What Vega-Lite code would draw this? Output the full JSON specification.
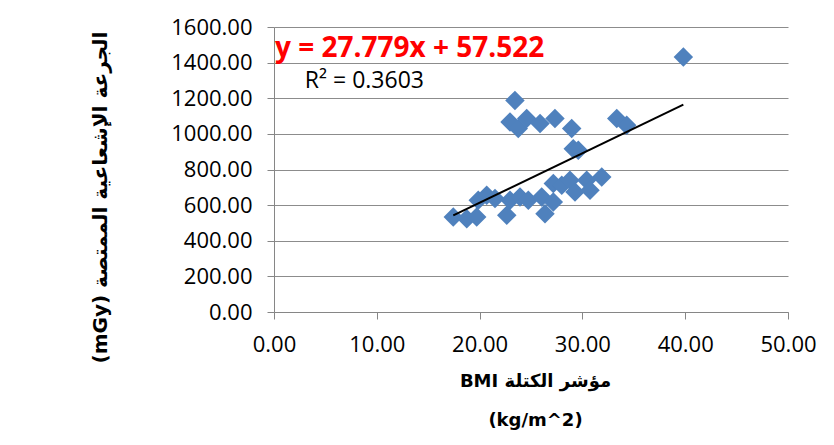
{
  "$schema": "https://vega.github.io/schema/vega-lite/v6.json",
  "width": 514,
  "height": 285,
  "autosize": {"type": "none"},
  "padding": {"left": 274, "top": 27, "right": 46, "bottom": 133},
  "background": "white",
  "config": {
    "view": {"stroke": null},
    "font": "Open Sans",
    "axis": {
      "domainColor": "#868686", "tickColor": "#868686", "tickSize": 7,
      "labelFontSize": 22, "labelColor": "black", "labelPadding": 15, "labelFont": "Open Sans",
      "labelOverlap": false, "labelFlush": false,
      "titleFont": "DejaVu Sans", "titleFontWeight": "bold", "titleColor": "black"
    }
  },
  "datasets": {
    "points": [
      {"bmi": 17.44, "dose": 533}, {"bmi": 18.75, "dose": 524}, {"bmi": 19.72, "dose": 533},
      {"bmi": 19.87, "dose": 627}, {"bmi": 20.69, "dose": 655}, {"bmi": 21.5, "dose": 637},
      {"bmi": 22.64, "dose": 543}, {"bmi": 22.96, "dose": 627}, {"bmi": 23.93, "dose": 646},
      {"bmi": 24.74, "dose": 627}, {"bmi": 23.44, "dose": 1188}, {"bmi": 22.96, "dose": 1067},
      {"bmi": 23.76, "dose": 1030}, {"bmi": 24.58, "dose": 1086}, {"bmi": 25.88, "dose": 1058},
      {"bmi": 27.33, "dose": 1086}, {"bmi": 28.96, "dose": 1030}, {"bmi": 29.11, "dose": 917},
      {"bmi": 29.6, "dose": 908}, {"bmi": 26.04, "dose": 646}, {"bmi": 26.36, "dose": 552},
      {"bmi": 27.17, "dose": 618}, {"bmi": 27.17, "dose": 721}, {"bmi": 27.99, "dose": 711},
      {"bmi": 28.79, "dose": 739}, {"bmi": 29.28, "dose": 674}, {"bmi": 30.42, "dose": 739},
      {"bmi": 30.74, "dose": 683}, {"bmi": 31.88, "dose": 758}, {"bmi": 33.34, "dose": 1086},
      {"bmi": 34.31, "dose": 1048}, {"bmi": 39.82, "dose": 1432}
    ],
    "trend": [{"bmi": 17.44, "dose": 542.0}, {"bmi": 39.82, "dose": 1163.7}]
  },
  "layer": [
    {
      "data": {"name": "points"},
      "mark": {"type": "point", "shape": "diamond", "filled": true, "size": 380, "color": "#4F81BD", "opacity": 1},
      "encoding": {
        "x": {
          "field": "bmi", "type": "quantitative",
          "scale": {"domain": [0, 50], "nice": false, "zero": true},
          "axis": {
            "values": [0, 10, 20, 30, 40, 50], "format": ".2f", "grid": false,
            "title": ["BMI مؤشر الكتلة", "(kg/m^2)"],
            "titleFontSize": 18,
            "titleX": 261, "titleY": 60, "titleBaseline": "top", "titleAlign": "center", "titleLineHeight": 39
          }
        },
        "y": {
          "field": "dose", "type": "quantitative",
          "scale": {"domain": [0, 1600], "nice": false},
          "axis": {
            "values": [0, 200, 400, 600, 800, 1000, 1200, 1400, 1600], "format": ".2f",
            "grid": true, "gridColor": "#8c8c8c", "gridWidth": 1,
            "title": "(mGy) الجرعة الإشعاعية الممتصة",
            "titleFontSize": 20,
            "titleAngle": -90, "titleX": -174, "titleY": 170, "titleAlign": "center", "titleBaseline": "middle"
          }
        }
      }
    },
    {
      "data": {"name": "trend"},
      "mark": {"type": "line", "color": "black", "strokeWidth": 2},
      "encoding": {
        "x": {"field": "bmi", "type": "quantitative",
              "axis": {"values": [0, 10, 20, 30, 40, 50], "format": ".2f", "grid": false}},
        "y": {"field": "dose", "type": "quantitative",
              "axis": {"values": [0, 200, 400, 600, 800, 1000, 1200, 1400, 1600], "format": ".2f",
                       "grid": true, "gridColor": "#8c8c8c", "gridWidth": 1}}
      }
    },
    {
      "data": {"values": [{}]},
      "mark": {"type": "text", "text": "y = 27.779x + 57.522", "align": "left", "baseline": "alphabetic",
               "color": "#FF0000", "fontWeight": "bold", "fontSize": 28, "font": "Open Sans"},
      "encoding": {
        "x": {"datum": 0.1, "type": "quantitative",
              "axis": {"values": [0, 10, 20, 30, 40, 50], "format": ".2f", "grid": false}},
        "y": {"datum": 1430, "type": "quantitative",
              "axis": {"values": [0, 200, 400, 600, 800, 1000, 1200, 1400, 1600], "format": ".2f",
                       "grid": true, "gridColor": "#8c8c8c", "gridWidth": 1}}
      }
    },
    {
      "data": {"values": [{}]},
      "mark": {"type": "text", "text": "R² = 0.3603", "align": "left", "baseline": "alphabetic",
               "color": "black", "fontSize": 23, "font": "Open Sans"},
      "encoding": {
        "x": {"datum": 3.0, "type": "quantitative",
              "axis": {"values": [0, 10, 20, 30, 40, 50], "format": ".2f", "grid": false}},
        "y": {"datum": 1256, "type": "quantitative",
              "axis": {"values": [0, 200, 400, 600, 800, 1000, 1200, 1400, 1600], "format": ".2f",
                       "grid": true, "gridColor": "#8c8c8c", "gridWidth": 1}}
      }
    }
  ]
}
